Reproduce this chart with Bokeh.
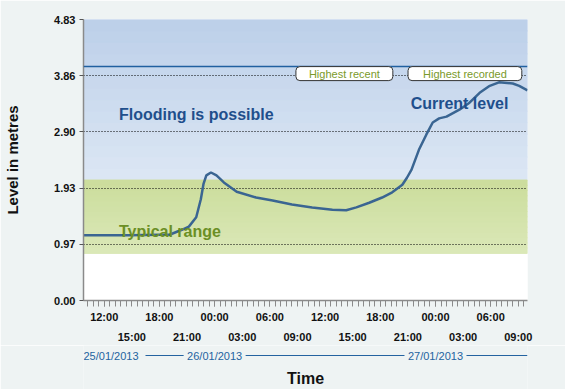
import numpy as np
from bokeh.plotting import figure
from bokeh.models import FixedTicker, LinearAxis, Span, Label, Range1d, PrintfTickFormatter
from bokeh.layouts import column
from bokeh.embed import file_html
from bokeh.resources import INLINE
from bokeh.core.properties import value

# ---------------- data ----------------
# hours since 25/01/2013 00:00
hours = [9.72, 14.7, 18.0, 19.1, 20.5, 21.2, 22.0, 22.5, 22.8, 23.1, 23.6, 24.2, 25.0,
         26.4, 28.5, 30.3, 32.4, 34.6, 36.8, 38.3, 39.4, 40.8, 42.2, 43.3, 44.4, 44.9,
         45.4, 46.2, 47.0, 47.7, 48.4, 49.2, 50.6, 51.7, 52.8, 53.9, 54.9, 56.4, 57.1, 58.0]
level = [1.12, 1.12, 1.13, 1.13, 1.22, 1.27, 1.43, 1.74, 2.01, 2.15, 2.20, 2.15, 2.03,
         1.87, 1.77, 1.72, 1.65, 1.60, 1.56, 1.55, 1.60, 1.68, 1.77, 1.86, 1.99, 2.11,
         2.25, 2.59, 2.85, 3.06, 3.13, 3.16, 3.28, 3.40, 3.57, 3.69, 3.75, 3.73, 3.69, 3.61]

typical_low = 0.81
typical_high = 2.07
flood_top = 4.83
highest_level = 4.02

y_ticks = [0.00, 0.97, 1.93, 2.90, 3.86, 4.83]
row1_ticks = [12, 18, 24, 30, 36, 42, 48, 54]
row1_labels = ["12:00", "18:00", "00:00", "06:00", "12:00", "18:00", "00:00", "06:00"]
row2_ticks = [15, 21, 27, 33, 39, 45, 51, 57]
row2_labels = ["15:00", "21:00", "03:00", "09:00", "15:00", "21:00", "03:00", "09:00"]
date_hours = [9.75, 24, 48]
date_labels = ["25/01/2013", "26/01/2013", "27/01/2013"]
x_start, x_end = 9.75, 58.0

# ---------------- style ----------------
BG = "#eef3f3"
FONT = "Liberation Sans"
BLUE_TXT = "#1f4f8c"
GREEN_TXT = "#6b8f25"
DATE_BLUE = "#2463a0"
FW, FH = 444, 281
LEFT, RIGHT = 83, 38

p = figure(frame_width=FW, frame_height=FH, min_border_left=LEFT, min_border_right=RIGHT,
           min_border_top=19, min_border_bottom=44,
           x_range=Range1d(x_start, x_end), y_range=Range1d(0, flood_top),
           x_axis_location=None, output_backend="svg", toolbar_location=None)
p.background_fill_color = "white"
p.border_fill_color = BG
p.outline_line_color = None


def lerp_hex(c1, c2, t):
    a = [int(c1[i:i + 2], 16) for i in (1, 3, 5)]
    b = [int(c2[i:i + 2], 16) for i in (1, 3, 5)]
    return "#%02x%02x%02x" % tuple(int(round(a[k] + (b[k] - a[k]) * t)) for k in range(3))


def gradient_band(lo, hi, c_bottom, c_top, n=14):
    edges = np.linspace(lo, hi, n + 1)
    cols = [lerp_hex(c_bottom, c_top, (i + 0.5) / n) for i in range(n)]
    p.quad(left=x_start, right=x_end, bottom=edges[:-1], top=edges[1:],
           fill_color=cols, line_color=cols, line_width=1, level="image")


gradient_band(typical_high, flood_top, "#dce7f4", "#bccfe9")
gradient_band(typical_low, typical_high, "#dbe8b8", "#cbdd9c")

# grid
p.xgrid.visible = False
p.ygrid.ticker = FixedTicker(ticks=y_ticks)
p.ygrid.grid_line_color = "black"
p.ygrid.grid_line_dash = "1 2"
p.ygrid.grid_line_width = 1

# y axis
p.yaxis.ticker = FixedTicker(ticks=y_ticks)
p.yaxis.formatter = PrintfTickFormatter(format="%.2f")
p.yaxis.axis_line_color = "#8a8a8a"
p.yaxis.axis_line_width = 1.5
p.yaxis.major_tick_line_color = "#555555"
p.yaxis.major_tick_out = 4
p.yaxis.major_tick_in = 0
p.yaxis.minor_tick_line_color = None
p.yaxis.major_label_text_font = FONT
p.yaxis.major_label_text_font_style = "bold"
p.yaxis.major_label_text_font_size = "11px"
p.yaxis.major_label_text_color = "#111111"
p.yaxis.major_label_standoff = 4
p.yaxis.axis_label = "Level in metres"
p.yaxis.axis_label_text_font = FONT
p.yaxis.axis_label_text_font_style = "bold"
p.yaxis.axis_label_text_font_size = "15px"
p.yaxis.axis_label_text_color = "#111111"
p.yaxis.axis_label_standoff = 30

# x axes (two staggered rows)
minor = [round(12 + 0.6 * k, 2) for k in range(-4, 80)]
minor = [m for m in minor if x_start <= m <= x_end]
ax1 = LinearAxis(ticker=FixedTicker(ticks=row1_ticks, minor_ticks=minor),
                 major_label_overrides=dict(zip(row1_ticks, row1_labels)))
ax1.axis_line_color = "#8a8a8a"
ax1.axis_line_width = 1.5
ax1.major_tick_line_color = "#8a8a8a"
ax1.minor_tick_line_color = "#8a8a8a"
ax1.major_tick_out = 6
ax1.minor_tick_out = 6
ax1.major_tick_in = 0
ax1.minor_tick_in = 0
ax1.major_label_standoff = 4
ax1.major_label_text_font = FONT
ax1.major_label_text_font_style = "bold"
ax1.major_label_text_font_size = "11px"
ax1.major_label_text_color = "#111111"
p.add_layout(ax1, "below")

ax2 = LinearAxis(ticker=FixedTicker(ticks=row2_ticks, minor_ticks=[]),
                 major_label_overrides=dict(zip(row2_ticks, row2_labels)))
ax2.axis_line_color = None
ax2.major_tick_line_color = None
ax2.minor_tick_line_color = None
ax2.major_tick_out = 0
ax2.major_tick_in = 0
ax2.major_label_standoff = 5
ax2.major_label_text_font = FONT
ax2.major_label_text_font_style = "bold"
ax2.major_label_text_font_size = "11px"
ax2.major_label_text_color = "#111111"
p.add_layout(ax2, "below")

# highest level line
p.add_layout(Span(location=highest_level, dimension="width", line_color="#2060a0", line_width=1.5))

# text annotations
for txt, x, y, col in [("Flooding is possible", 13.6, 3.20, BLUE_TXT),
                       ("Typical range", 13.6, 1.19, GREEN_TXT),
                       ("Current level", 45.3, 3.39, BLUE_TXT)]:
    p.add_layout(Label(x=x, y=y, text=txt, text_font=FONT, text_font_style="bold",
                       text_font_size="16px", text_color=col, text_baseline="middle",
                       text_align="left"))

# water level line
p.line(hours, level, line_color="#3a6592", line_width=2.5)

# marker boxes
for txt, x, pad in [("Highest recent", 38.1, 13), ("Highest recorded", 51.2, 15)]:
    p.add_layout(Label(x=x, y=highest_level - 0.12, text=txt, text_font=FONT,
                       text_font_size="11px", text_color="#7a9a2a", text_baseline="middle",
                       text_align="center", background_fill_color="white",
                       border_line_color="#333333", border_line_width=1,
                       border_radius=4, padding=(pad, 1)))

# ---------------- date strip ----------------
SH = 44
q = figure(frame_width=FW, frame_height=SH, min_border_left=LEFT, min_border_right=RIGHT,
           min_border_top=0, min_border_bottom=0,
           x_range=p.x_range, y_range=Range1d(0, SH),
           x_axis_location=None, y_axis_location=None,
           output_backend="svg", toolbar_location=None)
q.background_fill_color = BG
q.border_fill_color = BG
q.outline_line_color = None
q.grid.visible = False

px_per_hour = FW / (x_end - x_start)
gap = 31 / px_per_hour
seg_x0 = [date_hours[0] + 2 * gap, date_hours[1] + gap, date_hours[2] + gap]
seg_x1 = [date_hours[1] - gap, date_hours[2] - gap, x_end]
q.segment(x0=seg_x0, x1=seg_x1, y0=SH - 10, y1=SH - 10, line_color=DATE_BLUE, line_width=1.2)
q.text(x=date_hours[:1], y=[SH - 10], text=date_labels[:1], text_font=value(FONT),
       text_font_size="11px", text_color=DATE_BLUE, text_align="left", text_baseline="middle")
q.text(x=date_hours[1:], y=[SH - 10, SH - 10], text=date_labels[1:], text_font=value(FONT),
       text_font_size="11px", text_color=DATE_BLUE, text_align="center", text_baseline="middle")
q.text(x=[(x_start + x_end) / 2], y=[SH - 33], text=["Time"], text_font=value(FONT),
       text_font_style="bold", text_font_size="16px", text_color="#111111",
       text_align="center", text_baseline="middle")

layout = column(p, q, spacing=0)
open("out.html", "w").write(file_html(layout, INLINE))
